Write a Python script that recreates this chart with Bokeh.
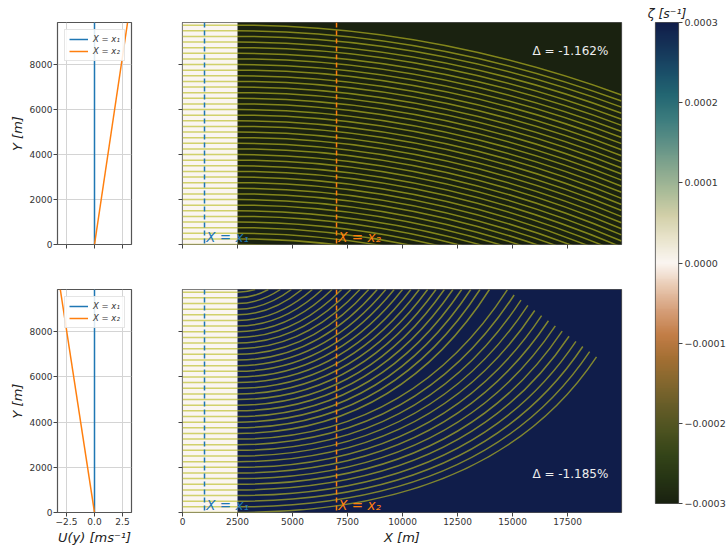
import numpy as np
from bokeh.plotting import figure
from bokeh.layouts import row, column
from bokeh.models import (ColumnDataSource, LinearColorMapper, FixedTicker, Span,
                          Label, Range1d)
from bokeh.embed import file_html
from bokeh.resources import INLINE

# ---------------- data ----------------
PROFILE_Y = [0, 9870]
U_X1 = [0.0, 0.0]
U_X2_TOP = [0.0, 2.95]
U_X2_BOT = [0.0, -3.05]

X1_POS = 1000
X2_POS = 7000

REGION_EDGES = [0, 2500, 19950]
Y_TOP = 9870
ZETA_TOP = [0.0, -0.0003]
ZETA_BOT = [0.0, 0.0003]

LINE_START_Y = [0, 250, 500, 750, 1000, 1250, 1500, 1750, 2000, 2250,
                2500, 2750, 3000, 3250, 3500, 3750, 4000, 4250, 4500, 4750,
                5000, 5250, 5500, 5750, 6000, 6250, 6500, 6750, 7000, 7250,
                7500, 7750, 8000, 8250, 8500, 8750, 9000, 9250, 9500, 9750]

# upper panel: curved lines reach the right edge at these heights
TOP_END_Y = [-3900, -3630, -3359, -3088, -2818, -2548, -2277, -2006, -1736, -1466,
             -1195, -924, -654, -384, -113, 158, 428, 698, 969, 1240,
             1510, 1780, 2051, 2322, 2592, 2862, 3133, 3404, 3674, 3944,
             4215, 4486, 4756, 5026, 5297, 5568, 5838, 6108, 6379, 6650]
TOP_CTRL_X = 11225

# lower panel: end points of the curved lines and their bend points
BOT_END_X = [18815, 18503, 18191, 17879, 17567, 17255, 16943, 16631, 16319, 16007,
             15695, 15383, 15071, 14760, 13950, 13520, 13100, 12690, 12290, 11900,
             11520, 11140, 10760, 10380, 10000, 9620, 9240, 8850, 8460, 8060,
             7650, 7230, 6800, 6350, 5900, 5430, 4950, 4450, 3900, 3300]
BOT_END_Y = [6890, 7118, 7346, 7574, 7802, 8030, 8258, 8486, 8714, 8942,
             9170, 9398, 9626, 9854, 9870, 9870, 9870, 9870, 9870, 9870,
             9870, 9870, 9870, 9870, 9870, 9870, 9870, 9870, 9870, 9870,
             9870, 9870, 9870, 9870, 9870, 9870, 9870, 9870, 9870, 9870]
BOT_CTRL_X = [14084, 13776, 13471, 13170, 12872, 12578, 12287, 11999, 11714, 11434,
              11156, 10882, 10611, 10344, 9764, 9432, 9110, 8799, 8499, 8210,
              7930, 7655, 7383, 7116, 6853, 6594, 6339, 6083, 5830, 5577,
              5322, 5066, 4810, 4547, 4290, 4027, 3763, 3495, 3207, 2900]

DELTA_TOP = "Δ = -1.162%"
DELTA_BOT = "Δ = -1.185%"

Y_TICKS = [0, 2000, 4000, 6000, 8000]
X_TICKS_MAIN = [0, 2500, 5000, 7500, 10000, 12500, 15000, 17500]
X_TICKS_PROF = [-2.5, 0, 2.5]
X_LABELS_PROF = {-2.5: "\u22122.5", 0: "0.0", 2.5: "2.5"}
CB_TICKS = [-3, -2, -1, 0, 1, 2, 3]
CB_LABELS = {-3: "\u22120.0003", -2: "\u22120.0002", -1: "\u22120.0001", 0: "0.0000",
             1: "0.0001", 2: "0.0002", 3: "0.0003"}
ZETA_MIN, ZETA_MAX = -0.0003, 0.0003

# colour stops of the diverging map, from low to high
TARN_STOPS = ["#1a2210", "#263414", "#344418", "#4c5220", "#655c28", "#83672e",
              "#a36f33", "#c27d46", "#d59e78", "#e8c8b0", "#fbf6f2", "#e9e4cc",
              "#d1cfa8", "#a9bb98", "#85a68e", "#5e9086", "#3c7c7e", "#236672",
              "#1a4d68", "#153458", "#101d4a"]


def make_palette(stops, n=256):
    rgb = np.array([[int(s[i:i + 2], 16) for i in (1, 3, 5)] for s in stops], float)
    pos = np.linspace(0, 1, len(stops))
    t = np.linspace(0, 1, n)
    out = []
    for tt in t:
        c = [int(round(np.interp(tt, pos, rgb[:, k]))) for k in range(3)]
        out.append("#%02x%02x%02x" % tuple(c))
    return out


PALETTE = make_palette(TARN_STOPS)
mapper = LinearColorMapper(palette=PALETTE, low=ZETA_MIN, high=ZETA_MAX)

FONT = "DejaVu Sans"
TXT = "#333333"
LINE_COL = "#bcbd22"
BLUE = "#1f77b4"
ORANGE = "#ff7f0e"


def style(p):
    p.outline_line_color = "#555555"
    p.outline_line_width = 1.2
    p.background_fill_color = "white"
    p.border_fill_color = "white"
    for ax in p.axis:
        ax.major_tick_out = 4
        ax.major_tick_in = 0
        ax.minor_tick_out = 0
        ax.minor_tick_in = 0
        ax.axis_line_color = None
        ax.major_tick_line_color = "#444444"
        ax.major_label_text_font = FONT
        ax.major_label_text_font_size = "9px"
        ax.major_label_text_color = TXT
        ax.axis_label_text_font = FONT
        ax.axis_label_text_font_size = "13px"
        ax.axis_label_text_font_style = "italic"
        ax.axis_label_text_color = "#222222"
        ax.major_label_standoff = 1
        ax.axis_label_standoff = 2


def hide_labels(ax):
    ax.major_label_text_color = None
    ax.major_label_text_alpha = 0


def profile_fig(height, top, bottom, u2, show_x):
    p = figure(width=148, height=height, x_range=Range1d(-3.3, 3.3), y_range=Range1d(0, Y_TOP),
               output_backend="svg", toolbar_location=None,
               min_border_left=57, min_border_right=17, min_border_top=top, min_border_bottom=bottom)
    style(p)
    p.xaxis.ticker = FixedTicker(ticks=X_TICKS_PROF)
    p.yaxis.ticker = FixedTicker(ticks=Y_TICKS)
    p.xgrid.ticker = FixedTicker(ticks=X_TICKS_PROF)
    p.ygrid.ticker = FixedTicker(ticks=Y_TICKS)
    p.grid.grid_line_color = "#d4d4d4"
    p.grid.grid_line_width = 1
    p.yaxis.axis_label = "Y [m]"
    if show_x:
        p.xaxis.major_label_overrides = X_LABELS_PROF
        p.xaxis.axis_label = "U(y) [ms\u207b\u00b9]"
    else:
        hide_labels(p.xaxis[0])
    p.line(U_X1, PROFILE_Y, color=BLUE, line_width=1.5, legend_label="X = x\u2081")
    p.line(u2, PROFILE_Y, color=ORANGE, line_width=1.5, legend_label="X = x\u2082")
    lg = p.legend[0]
    lg.location = "top_left"
    lg.margin = 7
    lg.padding = 4
    lg.spacing = 2
    lg.glyph_width = 19
    lg.glyph_height = 10
    lg.label_height = 10
    lg.label_standoff = 5
    lg.label_text_font = FONT
    lg.label_text_font_size = "8.5px"
    lg.label_text_font_style = "italic"
    lg.label_text_color = TXT
    lg.border_line_color = "#cccccc"
    lg.background_fill_alpha = 0.85
    return p


def main_fig(height, top, bottom, zeta, end_x, end_y, ctrl_x, delta_text, delta_y, show_x):
    p = figure(width=482, height=height, x_range=Range1d(REGION_EDGES[0], REGION_EDGES[2]),
               y_range=Range1d(0, Y_TOP), output_backend="svg", toolbar_location=None,
               min_border_left=34, min_border_right=9, min_border_top=top, min_border_bottom=bottom)
    style(p)
    p.grid.visible = False
    p.xaxis.ticker = FixedTicker(ticks=X_TICKS_MAIN)
    p.yaxis.ticker = FixedTicker(ticks=Y_TICKS)
    hide_labels(p.yaxis[0])
    if show_x:
        p.xaxis.axis_label = "X [m]"
    else:
        hide_labels(p.xaxis[0])
    bg = ColumnDataSource(dict(left=REGION_EDGES[:-1], right=REGION_EDGES[1:],
                               bottom=[0, 0], top=[Y_TOP, Y_TOP], zeta=zeta))
    p.quad(left="left", right="right", bottom="bottom", top="top", source=bg,
           fill_color={"field": "zeta", "transform": mapper}, line_color=None)
    n = len(LINE_START_Y)
    p.segment(x0=[REGION_EDGES[0]] * n, x1=[REGION_EDGES[1]] * n, y0=LINE_START_Y, y1=LINE_START_Y,
              line_color=LINE_COL, line_alpha=0.65, line_width=1.5)
    src = ColumnDataSource(dict(x0=[REGION_EDGES[1]] * n, y0=LINE_START_Y, x1=end_x, y1=end_y,
                                cx=ctrl_x, cy=LINE_START_Y))
    p.quadratic(x0="x0", y0="y0", x1="x1", y1="y1", cx="cx", cy="cy", source=src,
                line_color=LINE_COL, line_alpha=0.65, line_width=1.5)
    for pos, col, txt in ((X1_POS, BLUE, "X = x\u2081"), (X2_POS, ORANGE, "X = x\u2082")):
        p.add_layout(Span(location=pos, dimension="height", line_color=col, line_width=1.5,
                          line_dash="5 3"))
        p.add_layout(Label(x=pos + 80, y=0, text=txt, text_color=col, text_font=FONT,
                           text_font_size="13.5px", text_font_style="italic",
                           text_baseline="bottom"))
    p.add_layout(Label(x=15900, y=delta_y, text=delta_text, text_color="#eeeeee", text_font=FONT,
                       text_font_size="12px", text_baseline="middle"))
    return p


LT = profile_fig(264, 22, 20, U_X2_TOP, False)
LB = profile_fig(287, 25, 39, U_X2_BOT, True)
MT = main_fig(264, 22, 20, ZETA_TOP, [REGION_EDGES[2]] * len(LINE_START_Y), TOP_END_Y,
              [TOP_CTRL_X] * len(LINE_START_Y), DELTA_TOP, 8620, False)
MB = main_fig(287, 25, 39, ZETA_BOT, BOT_END_X, BOT_END_Y, BOT_CTRL_X, DELTA_BOT, 1720, True)

# colour bar
CB = figure(width=98, height=551, x_range=Range1d(0, 1), y_range=Range1d(-3, 3),
            output_backend="svg", toolbar_location=None, x_axis_location=None,
            y_axis_location="right", min_border_left=25, min_border_right=48,
            min_border_top=22, min_border_bottom=48)
style(CB)
CB.grid.visible = False
grad = np.linspace(ZETA_MIN, ZETA_MAX, 256).reshape(-1, 1)
CB.image(image=[grad], x=0, y=-3, dw=1, dh=6, color_mapper=mapper)
CB.yaxis.ticker = FixedTicker(ticks=CB_TICKS)
CB.yaxis.major_label_overrides = CB_LABELS
CB.yaxis.major_label_text_font_size = "9.5px"
CB.yaxis.major_label_standoff = 2
CB.title.text = "\u03b6 [s\u207b\u00b9]"
CB.title.align = "center"
CB.title.text_font = FONT
CB.title.text_font_size = "12.5px"
CB.title.text_font_style = "italic"
CB.title.text_color = "#222222"
CB.title.standoff = 3

layout = row(column(LT, LB), column(MT, MB), CB)

open("out.html", "w").write(file_html(layout, INLINE))
